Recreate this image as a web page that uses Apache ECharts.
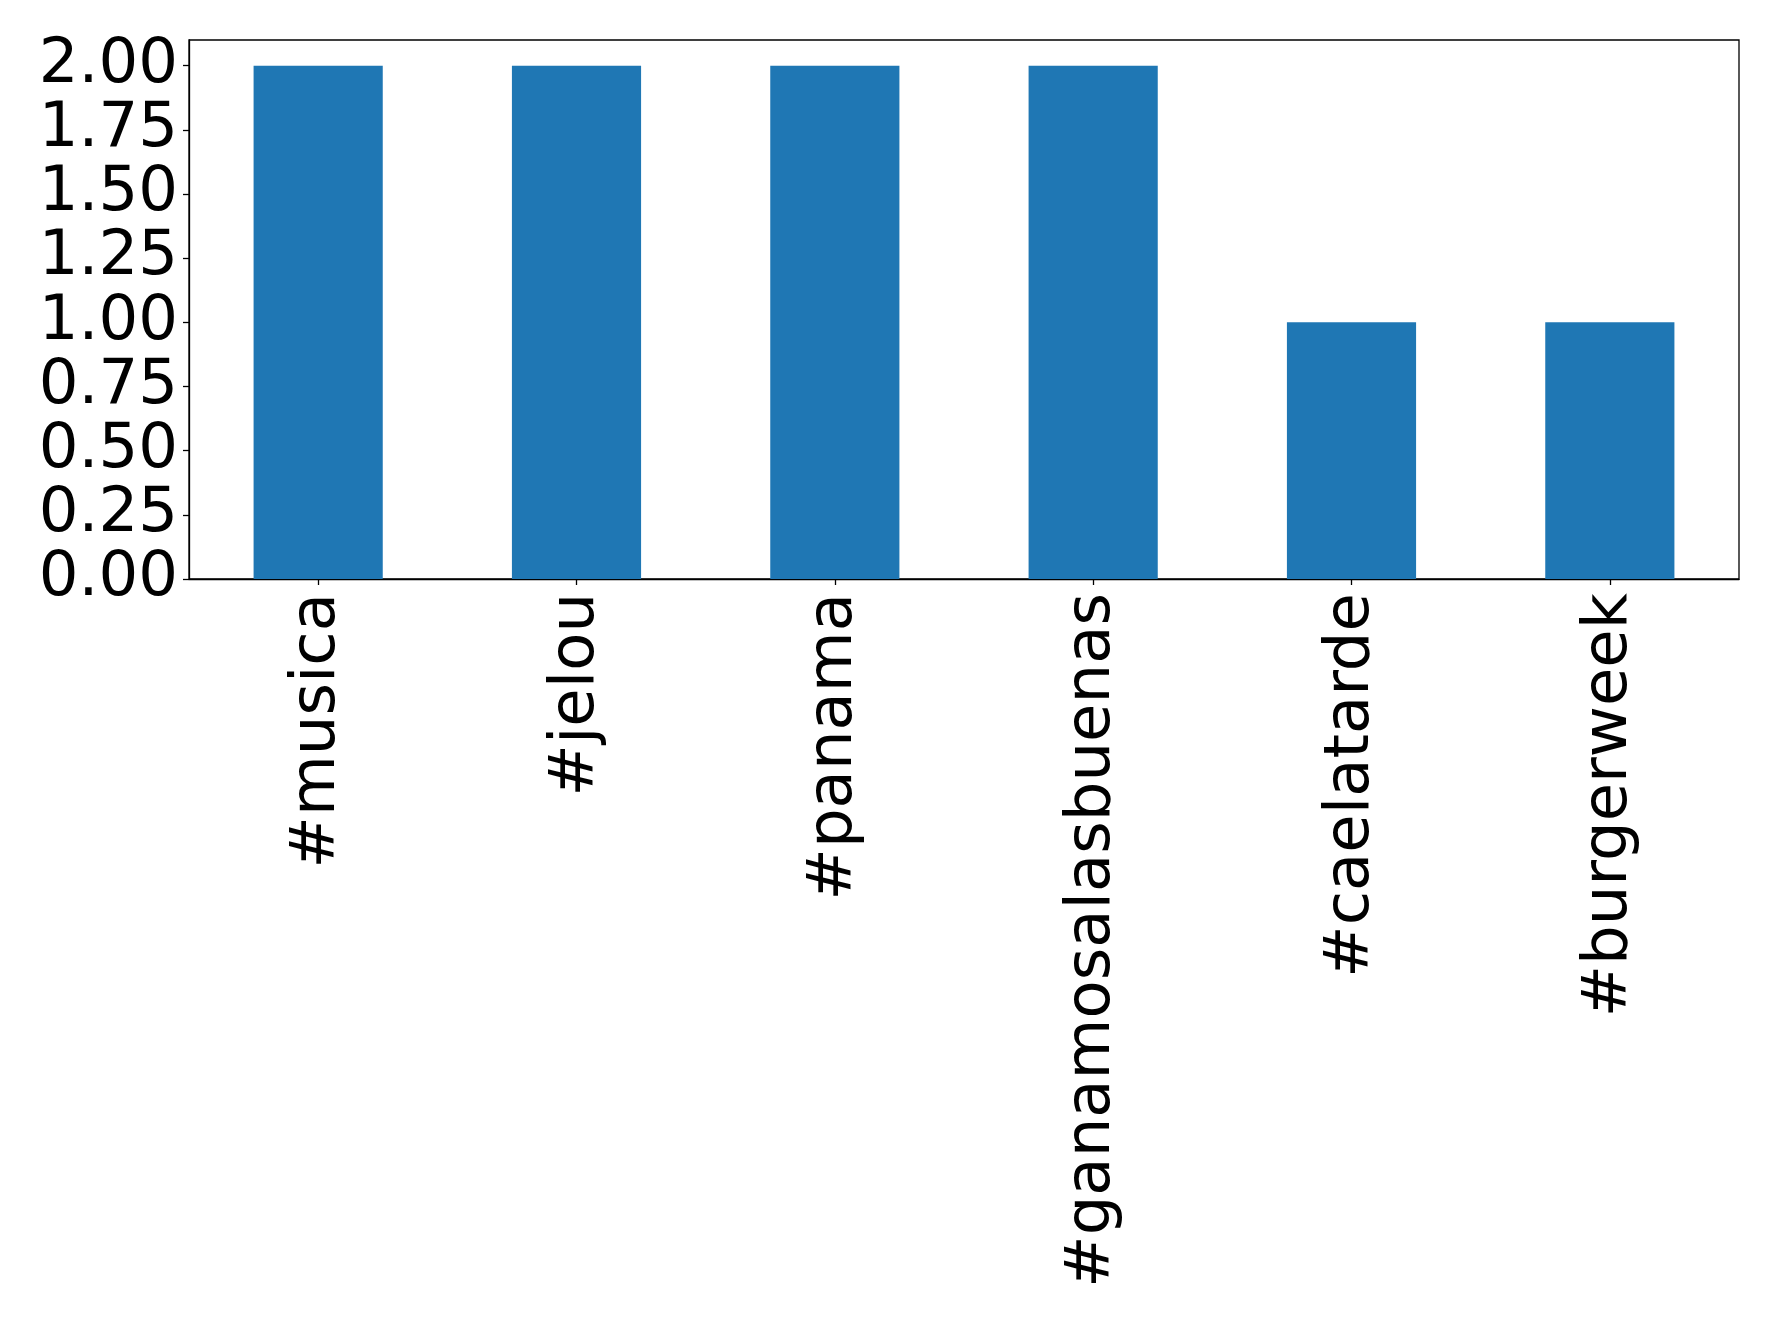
<!DOCTYPE html>
<html>
<head>
<meta charset="utf-8">
<script src="https://cdn.jsdelivr.net/npm/echarts@6/dist/echarts.min.js"></script>
<style>html,body{margin:0;padding:0;background:#fff;}#chart{width:1778px;height:1322px;}</style>
</head>
<body>
<div id="chart"></div>
<script>
const categories = ["#musica", "#jelou", "#panama", "#ganamosalasbuenas", "#caelatarde", "#burgerweek"];
const counts = [2, 2, 2, 2, 1, 1];
const yTicks = [0, 0.25, 0.5, 0.75, 1.0, 1.25, 1.5, 1.75, 2.0];

const chart = echarts.init(document.getElementById('chart'), null, {renderer: 'canvas'});
const fontFamily = 'DejaVu Sans';
chart.setOption({
  animation: false,
  backgroundColor: '#ffffff',
  grid: {left: 189, top: 40, right: 39, bottom: 743, show: true, borderColor: '#000', borderWidth: 1.3, backgroundColor: 'transparent'},
  xAxis: {
    type: 'category',
    data: categories,
    axisLine: {show: true, lineStyle: {color: '#000', width: 1.3}},
    axisTick: {show: true, alignWithLabel: true, length: 6, lineStyle: {color: '#000', width: 1.3}},
    axisLabel: {rotate: 90, margin: 14, fontSize: 62.5, fontFamily: fontFamily, color: '#000', interval: 0, padding: [9, 0, 0, 0]},
    splitLine: {show: false}
  },
  yAxis: {
    type: 'value',
    min: 0,
    max: 2.1,
    interval: 0.25,
    axisLine: {show: true, lineStyle: {color: '#000', width: 1.3}},
    axisTick: {show: true, length: 6, lineStyle: {color: '#000', width: 1.3}},
    axisLabel: {
      margin: 11, fontSize: 62.5, fontFamily: fontFamily, color: '#000', showMaxLabel: false, padding: [10, 0, 0, 0],
      formatter: function (v) { return yTicks.some(t => Math.abs(t - v) < 1e-9) ? v.toFixed(2) : ''; }
    },
    splitLine: {show: false}
  },
  series: [{
    type: 'bar',
    data: counts,
    barWidth: '50%',
    itemStyle: {color: '#1f77b4'}
  }]
});
</script>
</body>
</html>
